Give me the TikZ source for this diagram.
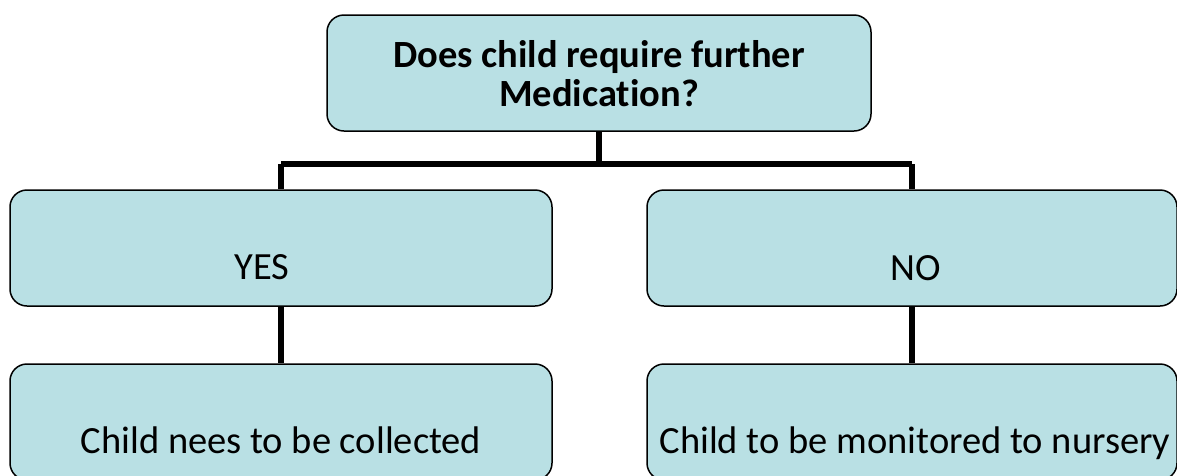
\documentclass[tikz,border=0pt]{standalone}
\usepackage{fontspec}
\setmainfont[RawFeature=-liga]{Carlito}
\usepackage{tikz}
\usetikzlibrary{positioning}

\definecolor{boxblue}{RGB}{185,224,228}

\begin{document}
\begin{tikzpicture}[x=1pt,y=-1pt,
                    link/.style={line width=5.5pt},
                    font=\fontsize{38.5}{39}\selectfont]
  \tikzstyle{box}=[draw,line width=1.5pt,fill=boxblue,rounded corners=17pt,
                   inner sep=0pt,minimum height=116pt]
  \tikzstyle{lbl}=[anchor=base,inner sep=0pt]
  \useasboundingbox (0,0) rectangle (1177,475);

  \node[box,minimum width=544pt] (ask)     at (599,73)  {};
  \node[box,minimum width=542pt] (yes)     at (281,248) {};
  \node[box,minimum width=530pt] (no)      at (912,248) {};
  \node[box,minimum width=542pt] (collect) at (281,422) {};
  \node[box,minimum width=530pt] (monitor) at (912,422) {};

  % base of a two-line node is the baseline of its last line
  \node[lbl,align=center,font=\fontsize{38.5}{39}\selectfont\bfseries]
        (asktxt) at (599,106) {Does child require further\\Medication?};
  \node[lbl] (yestxt)     at (262,279) {YES};
  \node[lbl] (notxt)      at (916,280) {NO};
  \node[lbl] (collecttxt) at (281,453) {Child nees to be collected};
  \node[lbl] (monitortxt) at (915,453) {Child to be monitored to nursery};

  \coordinate (split) at (599,164);
  \draw[link] (ask.south) -- (split);
  \draw[link] (split -| yes.north) -- (split -| no.north);
  \draw[link] (split -| yes.north) -- (yes.north);
  \draw[link] (split -| no.north) -- (no.north);
  \draw[link] (yes.south) -- (collect.north);
  \draw[link] (no.south) -- (monitor.north);
\end{tikzpicture}
\end{document}
